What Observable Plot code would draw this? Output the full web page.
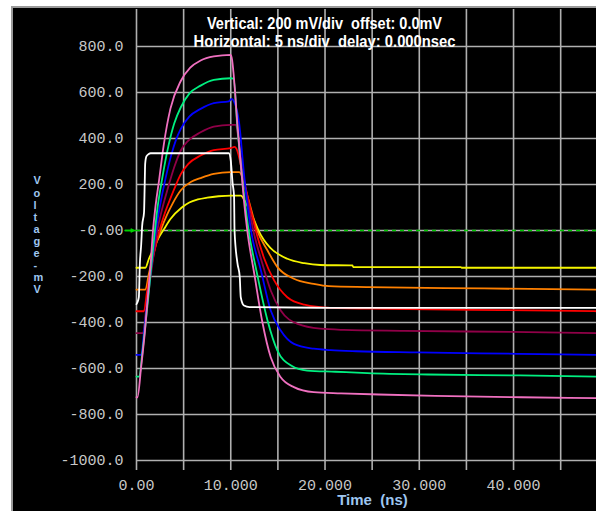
<!DOCTYPE html>
<html><head><meta charset="utf-8">
<script src="https://cdn.jsdelivr.net/npm/d3@7"></script>
<script src="https://cdn.jsdelivr.net/npm/@observablehq/plot@0.6"></script>
<style>
html,body{margin:0;padding:0;background:#ffffff;width:596px;height:511px;overflow:hidden;}
#frame{position:absolute;left:11px;top:6px;width:585px;height:505px;background:#000;border-left:2px solid #9a9a9a;border-top:2px solid #9a9a9a;}
#chart{position:absolute;left:13px;top:8px;}
svg text{white-space:pre;}
</style></head><body><div id="frame"></div><div id="chart"></div>
<script>
const xTicks = [0,5,10,15,20,25,30,35,40,45];
const xTickLabels = ["0.00","","10.000","","20.000","","30.000","","40.000",""];
const yTicks = [-1000,-800,-600,-400,-200,0,200,400,600,800];
const yTickLabels = ["-1000.0","-800.0","-600.0","-400.0","-200.0","-0.00","200.0","400.0","600.0","800.0"];
const header1 = "Vertical: 200 mV/div  offset: 0.0mV";
const header2 = "Horizontal: 5 ns/div  delay: 0.000nsec";
const xLabel = "Time  (ns)";
const yLabel = "Voltage-mV";

const seriesNames  = ["trace1","trace2","trace3","trace4","trace5","trace6","trace7","trace8"];
const seriesColors = ["#f5f500","#ff8000","#ff0000","#900048","#0000ff","#00f080","#f070c0","#ffffff"];

// [time ns, voltage mV]
const trace1 = [[0,-162],[0.95,-162],[1.3,-125],[1.8,-80],[2.3,-35],[2.9,5],[3.6,50],[4.8,100],[5.6,122],[6.5,135],[7.5,143],[8.7,149],[10,152],[11.06,152],[11.6,120],[12.5,43],[12.95,0],[13.5,-40],[14.2,-75],[16.0,-123],[17.8,-142],[19.5,-150],[22.9,-152],[23.0,-159],[34.4,-159],[34.5,-162],[48.8,-162]];
const trace2 = [[0,-257],[0.95,-257],[1.3,-190],[1.7,-120],[2.1,-55],[2.6,5],[3.2,65],[3.8,115],[4.7,175],[5.8,212],[6.8,228],[8.2,246],[10,254],[10.9,254],[11.8,145],[12.8,0],[13.9,-87],[14.95,-159],[16.7,-210],[18.8,-232],[20.4,-242],[24.6,-246],[36.9,-252],[48.8,-257]];
const trace3 = [[0,-351],[0.8,-351],[1.1,-270],[1.5,-175],[1.9,-90],[2.4,-5],[3.0,75],[3.6,140],[4.2,200],[4.7,245],[5.5,290],[6.8,326],[8.2,350],[10,358],[10.4,364],[10.6,356],[11.4,217],[12.3,58],[12.65,0],[13.5,-116],[14.6,-217],[16.0,-290],[17.8,-322],[20.6,-336],[26.6,-341],[38.6,-346],[48.8,-351]];
const trace4 = [[0,-446],[0.7,-446],[1.0,-350],[1.4,-230],[1.8,-110],[2.2,0],[2.7,90],[3.3,180],[4.0,275],[4.7,348],[5.5,391],[6.8,427],[8.2,452],[10,459],[10.5,459],[11.0,340],[11.5,200],[12.0,85],[12.4,0],[13.36,-145],[14.24,-261],[15.3,-348],[17.1,-406],[19.5,-427],[22,-432],[28.4,-436],[39.7,-441],[48.8,-446]];
const trace5 = [[0,-541],[0.5,-541],[0.8,-440],[1.1,-330],[1.4,-220],[1.7,-110],[2.05,0],[2.5,110],[3.1,230],[3.7,330],[4.2,395],[4.7,442],[5.6,495],[6.8,529],[8.2,554],[9.8,562],[10.1,572],[10.35,560],[10.9,464],[11.4,246],[12.15,0],[13.2,-174],[14.24,-348],[15.3,-435],[16.7,-493],[18.8,-514],[20.6,-520],[23.3,-525],[29.8,-530],[40.4,-536],[48.8,-541]];
const trace6 = [[0,-635],[0.3,-635],[0.6,-540],[0.95,-410],[1.3,-270],[1.6,-140],[1.9,-20],[2.2,90],[2.7,220],[3.4,370],[4.0,465],[4.7,536],[5.6,595],[6.8,630],[8.2,655],[10,662],[10.3,660],[10.7,449],[11.24,217],[11.9,0],[12.75,-180],[13.9,-391],[14.95,-522],[16.4,-587],[18.1,-609],[21.1,-614],[24.5,-620],[30.9,-626],[40.7,-630],[48.8,-635]];
const trace7 = [[0,-725],[0.1,-725],[0.5,-590],[0.9,-435],[1.2,-290],[1.5,-145],[1.75,0],[2.0,100],[2.4,220],[2.9,375],[3.6,530],[4.7,650],[5.7,708],[6.8,739],[8.2,757],[10,764],[10.15,740],[10.3,681],[10.7,464],[11.06,290],[11.4,130],[11.75,0],[12.5,-190],[13.36,-400],[14.24,-551],[15.3,-638],[16.7,-681],[18.8,-703],[21.7,-708],[25.7,-713],[31.7,-719],[40.8,-725],[48.8,-729]];
const trace8 = [[0,-320],[0.1,-312],[0.25,-290],[0.35,-150],[0.5,-60],[0.6,20],[0.8,80],[0.87,200],[0.92,290],[1.05,322],[1.3,333],[1.5,336],[9.8,336],[10.0,304],[10.2,204],[10.35,150],[10.4,0],[10.7,-140],[10.95,-200],[11.06,-290],[11.4,-326],[12.0,-333],[20.6,-336],[48.8,-336]];

const seriesData = [trace1, trace2, trace3, trace4, trace5, trace6, trace7, trace8];
const rows = [];
seriesNames.forEach((name, i) => seriesData[i].forEach(([t, v]) => rows.push({name, t, v})));

const grid = "#b0b0b0";
const labelBlue = "#9ec6f0";
const headFont = "'Liberation Sans', Arial, sans-serif";

const chart = Plot.plot({
  width: 583, height: 503,
  marginLeft: 123, marginRight: 0, marginTop: 1, marginBottom: 51,
  style: {background: "transparent", color: "#c8c8c8", fontFamily: "'Liberation Mono', 'DejaVu Sans Mono', monospace", fontSize: "15px", overflow: "visible"},
  x: {domain: [0, 48.8]},
  y: {domain: [-1000, 961]},
  color: {type: "ordinal", domain: seriesNames, range: seriesColors},
  marks: [
    Plot.ruleX(xTicks, {stroke: grid, strokeWidth: 1.6}),
    Plot.ruleY(yTicks, {stroke: grid, strokeWidth: 1.6}),
    Plot.axisX(xTicks, {tickSize: 10, tickPadding: 9, stroke: grid, strokeWidth: 1.6, tickFormat: d => xTickLabels[xTicks.indexOf(d)], label: null, fill: "#c8c8c8"}),
    Plot.axisY(yTicks, {tickSize: 0, tickPadding: 13, tickFormat: d => yTickLabels[yTicks.indexOf(d)], label: null, fill: "#c8c8c8"}),
    Plot.ruleY([0], {stroke: "#00c800", strokeWidth: 1.6, strokeDasharray: "4,4"}),
    Plot.ruleY([0], {x1: -1.2, x2: 0, stroke: "#00d000", strokeWidth: 1.6}),
    Plot.arrow([0], {x1: -1.2, x2: -0.3, y1: 0, y2: 0, stroke: "#00d000", strokeWidth: 1.6, headLength: 6}),
    Plot.line(rows, {x: "t", y: "v", z: "name", stroke: "name", strokeWidth: 1.8, curve: "monotone-x"}),
    Plot.text([header1], {frameAnchor: "top", dx: -42, dy: 19, lineAnchor: "bottom", fill: "#ffffff", fontSize: 16.5, fontWeight: "bold", fontFamily: headFont}),
    Plot.text([header2], {frameAnchor: "top", dx: -42, dy: 37, lineAnchor: "bottom", fill: "#ffffff", fontSize: 16.5, fontWeight: "bold", fontFamily: headFont}),
    Plot.text([xLabel], {frameAnchor: "bottom", dx: 6, dy: 40, lineAnchor: "middle", fill: labelBlue, fontSize: 15, fontWeight: "bold", fontFamily: headFont}),
    Plot.text([yLabel.split("").join("\n")], {frameAnchor: "left", dx: -103, lineAnchor: "middle", lineHeight: 1.1, fill: labelBlue, fontSize: 11, fontWeight: "bold", fontFamily: headFont})
  ]
});
d3.select(chart).selectAll("text").each(function() {
  if (this.textContent === header1) d3.select(this).attr("textLength", 235).attr("lengthAdjust", "spacingAndGlyphs");
  if (this.textContent === header2) d3.select(this).attr("textLength", 262).attr("lengthAdjust", "spacingAndGlyphs");
});
document.getElementById("chart").appendChild(chart);
</script>
</body></html>
